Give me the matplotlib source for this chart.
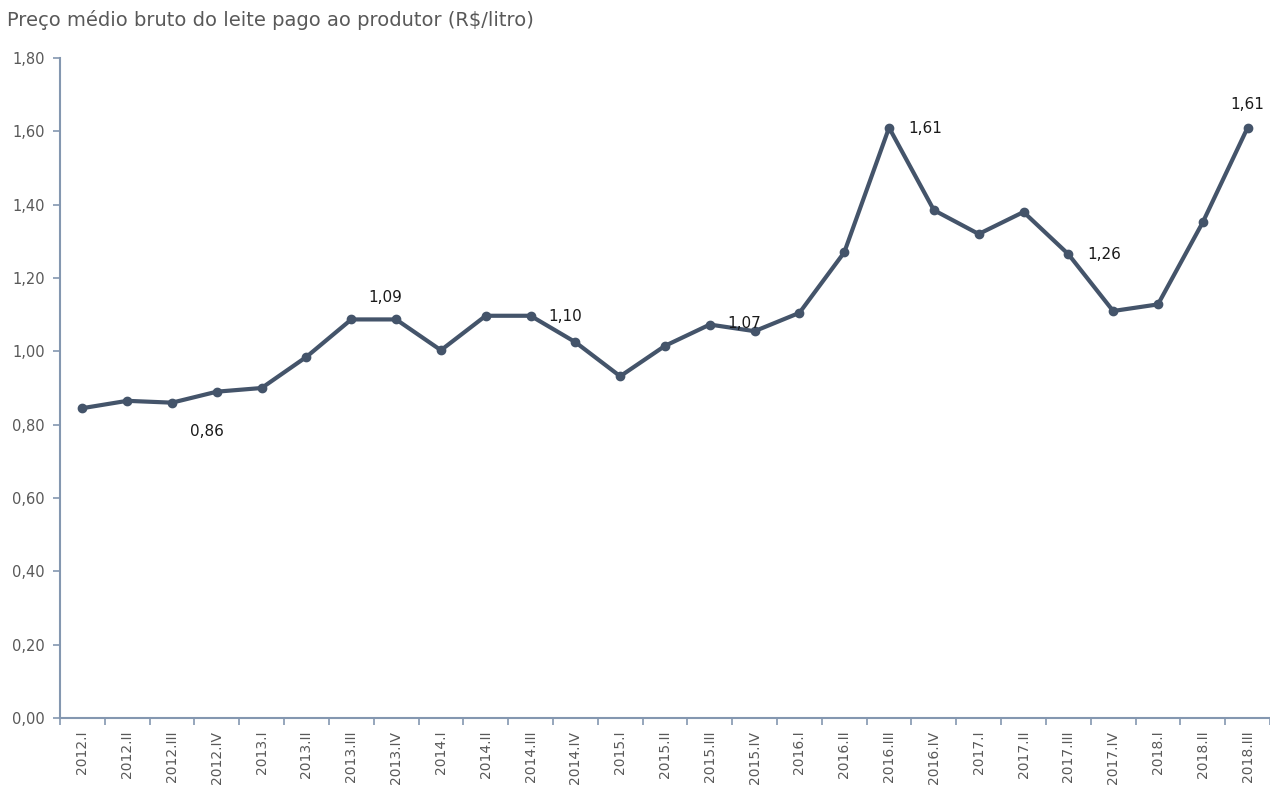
import matplotlib
matplotlib.use("Agg")
import matplotlib.pyplot as plt
from matplotlib.ticker import FuncFormatter

categories = ["2012.I", "2012.II", "2012.III", "2012.IV",
              "2013.I", "2013.II", "2013.III", "2013.IV",
              "2014.I", "2014.II", "2014.III", "2014.IV",
              "2015.I", "2015.II", "2015.III", "2015.IV",
              "2016.I", "2016.II", "2016.III", "2016.IV",
              "2017.I", "2017.II", "2017.III", "2017.IV",
              "2018.I", "2018.II", "2018.III"]
prices = [0.845, 0.865, 0.86, 0.89,
          0.90, 0.985, 1.087, 1.087,
          1.003, 1.097, 1.097, 1.025,
          0.932, 1.015, 1.073, 1.055,
          1.105, 1.27, 1.61, 1.385,
          1.32, 1.38, 1.265, 1.11,
          1.128, 1.352, 1.61]
label_idx = [2, 6, 10, 14, 18, 22, 26]
label_text = ["0,86", "1,09", "1,10", "1,07", "1,61", "1,26", "1,61"]
label_offsets = [(0.77, -0.08), (0.75, 0.06), (0.78, -0.003), (0.77, 0.004), (0.8, -0.003), (0.8, -0.002), (0.0, 0.062)]

plt.rcParams['font.family'] = ['DejaVu Sans']

fig = plt.figure(figsize=(12.7, 7.85), dpi=100)
ax = fig.add_axes([60/1270, 67/785, 1 - 60/1270, (718-58)/785])

line_color = "#44546A"
axis_color = "#8497B0"
x = list(range(len(categories)))
ax.plot(x, prices, color=line_color, lw=3, marker="o", ms=6, zorder=3)

for i, t, (dx, dy) in zip(label_idx, label_text, label_offsets):
    ax.text(i + dx, prices[i] + dy, t, ha="center", va="center", fontsize=11, color="#1a1a1a")

ax.set_xlim(-0.5, len(categories) - 0.5)
ax.set_ylim(0, 1.8)
ax.set_yticks([0, 0.2, 0.4, 0.6, 0.8, 1.0, 1.2, 1.4, 1.6, 1.8])
ax.yaxis.set_major_formatter(FuncFormatter(lambda v, p: f"{v:.2f}".replace(".", ",")))
ax.set_xticks(x)
ax.set_xticklabels(categories, rotation=90, fontsize=10, color="#595959")
ax.set_xticks([i - 0.5 for i in range(len(categories) + 1)], minor=True)
ax.tick_params(axis="x", which="major", length=0, pad=9)
ax.tick_params(axis="x", which="minor", length=5, color=axis_color, width=1.2, direction="out")
ax.tick_params(axis="y", length=5, color=axis_color, width=1.2, labelsize=10.5, labelcolor="#595959", pad=6)

for s in ["top", "right"]:
    ax.spines[s].set_visible(False)
for s in ["left", "bottom"]:
    ax.spines[s].set_color(axis_color)
    ax.spines[s].set_linewidth(1.5)

fig.text(7/1270, 1 - 20/785, "Preço médio bruto do leite pago ao produtor (R$/litro)",
         ha="left", va="center", fontsize=14, color="#595959")

fig.savefig("out.png", dpi=100)
